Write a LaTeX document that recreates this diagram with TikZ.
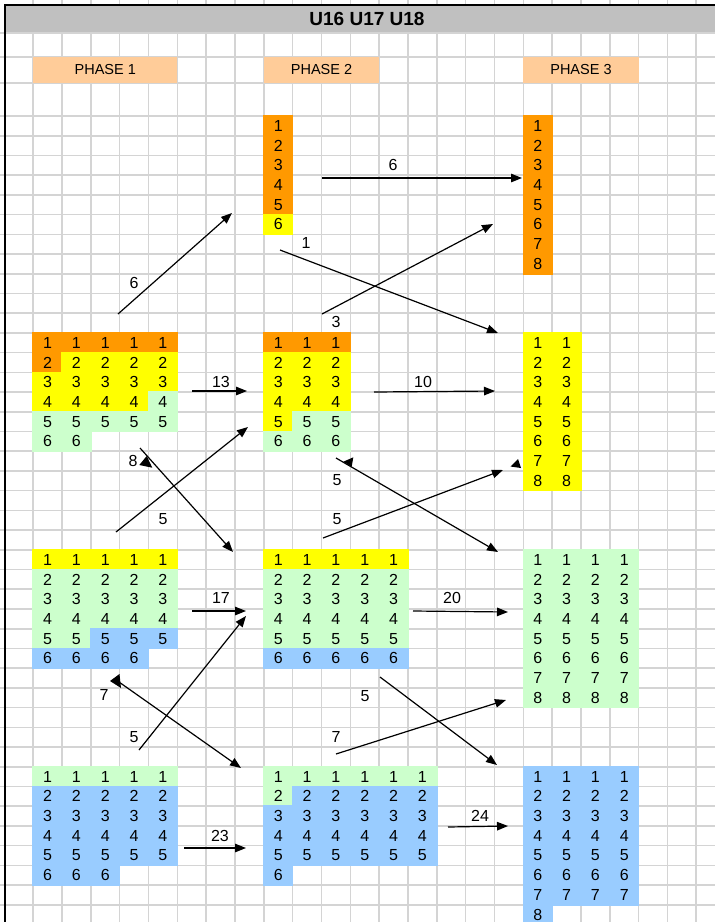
\documentclass[tikz,border=0pt]{standalone}
\usepackage{fontspec}
\setmainfont{Liberation Sans}
\usetikzlibrary{arrows.meta}

\definecolor{xorange}{HTML}{FF9900}
\definecolor{xyellow}{HTML}{FFFF00}
\definecolor{xgreen}{HTML}{CCFFCC}
\definecolor{xblue}{HTML}{99CCFF}
\definecolor{xpeach}{HTML}{FFCC99}
\definecolor{xgray}{HTML}{C0C0C0}
\definecolor{gridc}{HTML}{D4D4D4}

\newcommand\XO{33.2}
\newcommand\CW{28.83}
\newcommand\YO{116}
\newcommand\RH{19.72}

% colour, c0, r0, ncols, nrows
\newcommand\cells[5]{%
  \fill[#1] ({\XO+#2*\CW-0.8},{\YO+#3*\RH-0.8}) rectangle ({\XO+(#2+#4)*\CW+0.8},{\YO+(#3+#5)*\RH+0.8});}

% c0, r, n, text
\newcommand\digits[4]{%
  \foreach \i in {1,...,#3}{%
    \pgfmathtruncatemacro\cc{#1+\i-1}%
    \node[num] (c\cc r#2) at ({\XO+(\cc+0.5)*\CW},{\YO+(#2+0.5)*\RH}) {#4};}}

\tikzset{
  gridline/.style={draw=gridc, line width=1.6pt},
  num/.style={inner sep=0pt, font=\fontsize{16}{16}\selectfont},
  lbl/.style={inner sep=0pt, font=\fontsize{16}{16}\selectfont},
  phase/.style={fill=xpeach, inner sep=0pt, minimum height=26pt, font=\fontsize{14.5}{14.5}\selectfont},
  arr/.style={draw, line width=1.2pt, -{Triangle[length=11pt,width=8.5pt]}},
}

\begin{document}
\begin{tikzpicture}[x=1pt,y=-1pt]
\useasboundingbox (0,0) rectangle (715,922);
\fill[white] (0,0) rectangle (715,922);

% grid
\foreach \k in {0,...,23} \draw[gridline] ({\XO+\k*\CW},0) -- ({\XO+\k*\CW},922);
\foreach \k in {0,...,40} \draw[gridline] (0,{\YO+\k*\RH}) -- (715,{\YO+\k*\RH});
\foreach \yy in {33,57,83} \draw[gridline] (0,\yy) -- (715,\yy);

% title bar and border
\fill[xgray] (5,5) rectangle (715,32.2);
\node[font=\fontsize{19}{19}\selectfont\bfseries, inner sep=0pt] (title) at (367,19) {U16 U17 U18};
\draw[line width=2pt] (5,922) -- (5,5) -- (715,5);

% phase labels
\node[phase, minimum width=5*\CW*1pt] (ph1) at ({\XO+2.5*\CW},70) {PHASE 1};
\node[phase, minimum width=4*\CW*1pt] (ph2) at ({\XO+10*\CW},70) {PHASE 2};
\node[phase, minimum width=4*\CW*1pt] (ph3) at ({\XO+19*\CW},70) {PHASE 3};

% ---------- fills ----------
% phase 2 top
\cells{xorange}{8}{0}{1}{5}
\cells{xyellow}{8}{5}{1}{1}
% phase 3 top
\cells{xorange}{17}{0}{1}{8}
% phase 1 block 1
\cells{xorange}{0}{11}{5}{1}
\cells{xorange}{0}{12}{1}{1}
\cells{xyellow}{1}{12}{4}{1}
\cells{xyellow}{0}{13}{5}{1}
\cells{xyellow}{0}{14}{4}{1}
\cells{xgreen}{4}{14}{1}{1}
\cells{xgreen}{0}{15}{5}{1}
\cells{xgreen}{0}{16}{2}{1}
% phase 2 block 2
\cells{xorange}{8}{11}{3}{1}
\cells{xyellow}{8}{12}{3}{3}
\cells{xyellow}{8}{15}{1}{1}
\cells{xgreen}{9}{15}{2}{1}
\cells{xgreen}{8}{16}{3}{1}
% phase 3 block 2
\cells{xyellow}{17}{11}{2}{8}
% phase 1 block 3
\cells{xyellow}{0}{22}{5}{1}
\cells{xgreen}{0}{23}{5}{3}
\cells{xgreen}{0}{26}{2}{1}
\cells{xblue}{2}{26}{3}{1}
\cells{xblue}{0}{27}{4}{1}
% phase 2 block 3
\cells{xyellow}{8}{22}{5}{1}
\cells{xgreen}{8}{23}{5}{4}
\cells{xblue}{8}{27}{5}{1}
% phase 3 block 3
\cells{xgreen}{17}{22}{4}{8}
% phase 1 block 4
\cells{xgreen}{0}{33}{5}{1}
\cells{xblue}{0}{34}{5}{4}
\cells{xblue}{0}{38}{3}{1}
% phase 2 block 4
\cells{xgreen}{8}{33}{6}{1}
\cells{xgreen}{8}{34}{1}{1}
\cells{xblue}{9}{34}{5}{1}
\cells{xblue}{8}{35}{6}{3}
\cells{xblue}{8}{38}{1}{1}
% phase 3 block 4
\cells{xblue}{17}{33}{4}{7}
\cells{xblue}{17}{40}{1}{1}

% ---------- digits ----------
\foreach \r in {0,...,5}{\pgfmathtruncatemacro\dd{\r+1}\digits{8}{\r}{1}{\dd}}
\foreach \r in {0,...,7}{\pgfmathtruncatemacro\dd{\r+1}\digits{17}{\r}{1}{\dd}}

\digits{0}{11}{5}{1}
\digits{0}{12}{5}{2}
\digits{0}{13}{5}{3}
\digits{0}{14}{5}{4}
\digits{0}{15}{5}{5}
\digits{0}{16}{2}{6}

\foreach \r in {11,...,16}{\pgfmathtruncatemacro\dd{\r-10}\digits{8}{\r}{3}{\dd}}
\foreach \r in {11,...,18}{\pgfmathtruncatemacro\dd{\r-10}\digits{17}{\r}{2}{\dd}}

\foreach \r in {22,...,26}{\pgfmathtruncatemacro\dd{\r-21}\digits{0}{\r}{5}{\dd}}
\digits{0}{27}{4}{6}
\foreach \r in {22,...,27}{\pgfmathtruncatemacro\dd{\r-21}\digits{8}{\r}{5}{\dd}}
\foreach \r in {22,...,29}{\pgfmathtruncatemacro\dd{\r-21}\digits{17}{\r}{4}{\dd}}

\foreach \r in {33,...,37}{\pgfmathtruncatemacro\dd{\r-32}\digits{0}{\r}{5}{\dd}}
\digits{0}{38}{3}{6}
\foreach \r in {33,...,37}{\pgfmathtruncatemacro\dd{\r-32}\digits{8}{\r}{6}{\dd}}
\digits{8}{38}{1}{6}
\foreach \r in {33,...,39}{\pgfmathtruncatemacro\dd{\r-32}\digits{17}{\r}{4}{\dd}}
\digits{17}{40}{1}{8}

% ---------- arrows ----------
\coordinate (a1s) at (118,314);  \coordinate (a1e) at (232,213);
\coordinate (a2s) at (322,178);  \coordinate (a2e) at (522,178);
\coordinate (a3s) at (280,250);  \coordinate (a3e) at (498,333);
\coordinate (a4s) at (322,314);  \coordinate (a4e) at (493,224);
\coordinate (a5s) at (192,391);  \coordinate (a5e) at (247,391);
\coordinate (a6s) at (374,392);  \coordinate (a6e) at (495,391);
\coordinate (a7s) at (140,448);  \coordinate (a7e) at (233,552);
\coordinate (a8s) at (116,532);  \coordinate (a8e) at (248,427);
\coordinate (a9s) at (336,458);  \coordinate (a9e) at (498,552);
\coordinate (a10s) at (323,538); \coordinate (a10e) at (503,470);
\coordinate (a11s) at (192,611); \coordinate (a11e) at (246,611);
\coordinate (a12s) at (413,611); \coordinate (a12e) at (508,612);
\coordinate (a13s) at (119,682); \coordinate (a13e) at (241,768);
\coordinate (a14s) at (139,750); \coordinate (a14e) at (246,616);
\coordinate (a15s) at (380,677); \coordinate (a15e) at (497,765);
\coordinate (a16s) at (336,754); \coordinate (a16e) at (506,700);
\coordinate (a17s) at (184,848); \coordinate (a17e) at (246,848);
\coordinate (a18s) at (448,827); \coordinate (a18e) at (508,826);

\foreach \n in {1,...,18} \draw[arr] (a\n s) -- (a\n e);

% stray arrowheads
\fill (146.7,456) -- (139.3,465) -- (152.3,467.7) -- cycle;
\fill (343.3,461.7) -- (353.3,457.3) -- (351.7,466.7) -- cycle;
\fill (510.5,466.5) -- (518,459) -- (521,468) -- cycle;
\fill (110,681) -- (119.5,674) -- (121,688) -- cycle;

% labels
\node[lbl] (l1) at (134,283) {6};
\node[lbl] (l2) at (393,165) {6};
\node[lbl] (l3) at (306,243) {1};
\node[lbl] (l4) at (336,322) {3};
\node[lbl] (l5) at (221,382) {13};
\node[lbl] (l6) at (423,382) {10};
\node[lbl] (l7) at (133,461) {8};
\node[lbl] (l8) at (163,519) {5};
\node[lbl] (l9) at (337,480) {5};
\node[lbl] (l10) at (337,519) {5};
\node[lbl] (l11) at (221,598) {17};
\node[lbl] (l12) at (452,598) {20};
\node[lbl] (l13) at (104,695) {7};
\node[lbl] (l14) at (134,737) {5};
\node[lbl] (l15) at (365,696) {5};
\node[lbl] (l16) at (336,737) {7};
\node[lbl] (l17) at (220,836) {23};
\node[lbl] (l18) at (480,816) {24};
\end{tikzpicture}
\end{document}
